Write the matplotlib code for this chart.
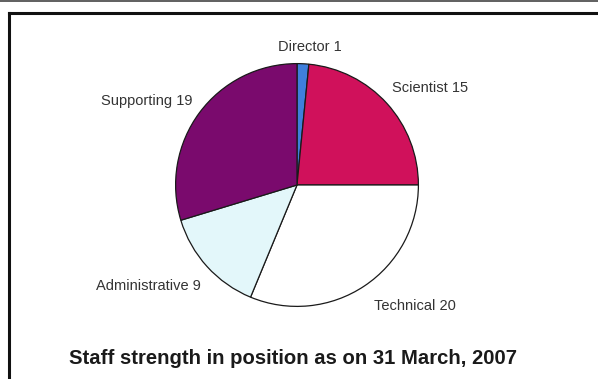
import matplotlib.pyplot as plt
from matplotlib.lines import Line2D

plt.rcParams['font.family'] = ['Liberation Sans', 'DejaVu Sans']

# staff counts by position
groups = ["Director", "Scientist", "Technical", "Administrative", "Supporting"]
counts = [1, 15, 20, 9, 19]
colors = ["#3f7fdc", "#d0115b", "#ffffff", "#e3f7fa", "#7a0a6d"]

# label anchor points in pie units
label_pos = {
    "Director": (0.11, 1.14),
    "Scientist": (1.10, 0.80),
    "Technical": (0.97, -1.00),
    "Administrative": (-1.22, -0.83),
    "Supporting": (-1.24, 0.69),
}

W, H = 598, 379
fig = plt.figure(figsize=(W / 100, H / 100), dpi=100)
fig.patch.set_facecolor("white")

# frame around the panel
fig.add_artist(Line2D([9 / W, 1], [1 - 13 / H, 1 - 13 / H], color="#111111", lw=2.2))
fig.add_artist(Line2D([9 / W, 9 / W], [0, 1 - 13 / H], color="#111111", lw=2.2))
fig.add_artist(Line2D([0, 1], [1 - 0.8 / H, 1 - 0.8 / H], color="#444444", lw=1.2))

cx, cy, r = 297, 185, 122
ax = fig.add_axes([(cx - r) / W, (H - cy - r) / H, 2 * r / W, 2 * r / H])
ax.pie(counts, colors=colors, startangle=90, counterclock=False, radius=1,
       wedgeprops=dict(edgecolor="#1a1a1a", linewidth=0.9))
ax.set_xlim(-1.005, 1.005)
ax.set_ylim(-1.005, 1.005)
ax.set_aspect("equal")
ax.axis("off")

for g, c in zip(groups, counts):
    x, y = label_pos[g]
    ax.text(x, y, f"{g} {c}", ha="center", va="center", fontsize=10.5,
            color="#333333", clip_on=False)

fig.text(293 / W, 1 - 358 / H, "Staff strength in position as on 31 March, 2007",
         ha="center", va="center", fontsize=14.6, fontweight="bold", color="#1a1a1a")

fig.savefig("out.png", dpi=100)
